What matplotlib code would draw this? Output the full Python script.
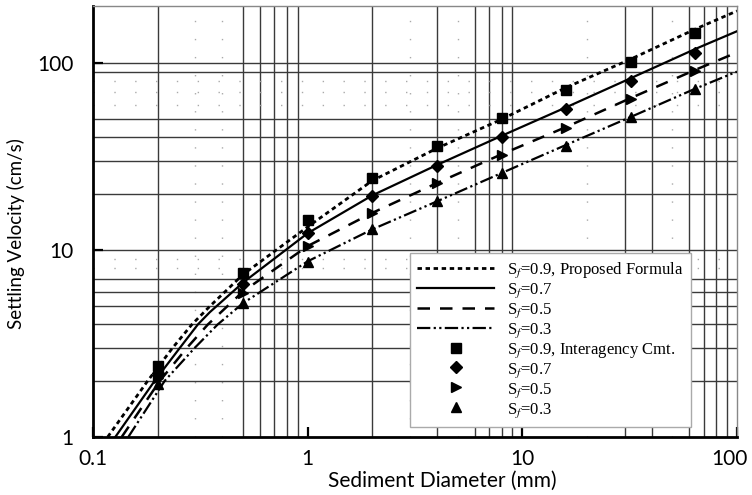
import numpy as np
import matplotlib
matplotlib.use("Agg")
import matplotlib.pyplot as plt
from matplotlib.transforms import ScaledTranslation

plt.rcParams['font.family'] = ['Lato', 'DejaVu Sans']
plt.rcParams['mathtext.fontset'] = 'stix'

# measured settling velocities (Interagency Committee), cm/s
d_meas = [0.2, 0.5, 1, 2, 4, 8, 16, 32, 64]
v_meas_09 = [2.4, 7.5, 14.4, 24.2, 36, 50.8, 71.8, 101, 145]
v_meas_07 = [2.2, 6.6, 12.3, 19.4, 28.1, 40.2, 56.8, 80, 113]
v_meas_05 = [2.06, 5.9, 10.5, 15.7, 22.8, 32.2, 44.9, 64.2, 90.7]
v_meas_03 = [1.91, 5.19, 8.6, 12.9, 18.2, 25.8, 36, 51.5, 72.6]

# proposed formula curves
d_f09 = [0.117, 0.18, 0.235, 0.289, 0.35, 0.5, 1, 2, 4, 8, 16, 32, 64, 100]
v_f09 = [1, 2, 3, 4, 5.0, 7.4, 13.3, 23.5, 35, 50, 74, 105, 152, 190]
d_f07 = [0.127, 0.194, 0.254, 0.308, 0.35, 0.5, 1, 2, 4, 8, 16, 32, 64, 100]
v_f07 = [1, 2, 3, 4, 4.65, 6.7, 12.3, 19.6, 28.5, 40.8, 58, 83, 119, 148]
d_f05 = [0.136, 0.205, 0.274, 0.343, 0.5, 1, 2, 4, 8, 16, 32, 64, 100]
v_f05 = [1, 2, 3, 4, 6.0, 10.5, 15.8, 22.8, 32.5, 45.5, 65, 92, 114]
d_f03 = [0.146, 0.216, 0.298, 0.381, 0.5, 1, 2, 4, 8, 16, 32, 64, 100]
v_f03 = [1, 2, 3, 4, 5.2, 8.7, 12.9, 18.2, 25.8, 36.5, 51.5, 73, 90]

# grid positions
vgrid_solid = [0.2, 0.5, 0.6, 0.7, 0.8, 0.9, 2, 4, 6, 7, 8, 9, 30, 40, 60, 70, 80, 90]
vgrid_dot = [0.3, 0.4, 3, 5, 20, 50]
hgrid_solid = [2, 3, 4, 5, 6, 7, 10, 20, 30, 40, 50, 90, 100]
hgrid_dot = [8, 9, 60, 70, 80]

fig = plt.figure(figsize=(7.52, 4.95), dpi=100)
ax = fig.add_axes([0.1237, 0.1172, 0.8563, 0.8707])
ax.set_xscale('log')
ax.set_yscale('log')
ax.set_xlim(0.1, 100)
ax.set_ylim(1, 202)

for x in vgrid_solid:
    ax.axvline(x, color='#3a3a3a', lw=1.0, zorder=1)
for x in vgrid_dot:
    ax.axvline(x, color='#aaaaaa', lw=1.0, ls=(0, (1, 12)), zorder=1)
for y in hgrid_solid:
    ax.axhline(y, color='#3a3a3a', lw=1.0, zorder=1)
for y in hgrid_dot:
    ax.axhline(y, color='#aaaaaa', lw=1.0, ls=(0, (1, 14)), zorder=1)

lab = r'S$_{f}$'
ax.plot(d_f09, v_f09, color='k', lw=2.0, ls=(0, (1.6, 1.3)),
        label=lab + '=0.9, Proposed Formula', zorder=3)
ax.plot(d_f07, v_f07, color='k', lw=1.6, ls='-', label=lab + '=0.7', zorder=3)
ax.plot(d_f05, v_f05, color='k', lw=1.8, ls=(0, (5, 4)), label=lab + '=0.5', zorder=3)
ax.plot(d_f03, v_f03, color='k', lw=1.6, ls=(0, (6, 1.5, 1, 1.5, 1, 1.5)),
        label=lab + '=0.3', zorder=3)

ax.plot(d_meas, v_meas_09, 's', color='k', ms=7, label=lab + '=0.9, Interagency Cmt.', zorder=4)
ax.plot(d_meas, v_meas_07, 'D', color='k', ms=6, label=lab + '=0.7', zorder=4)
ax.plot(d_meas, v_meas_05, '>', color='k', ms=7, label=lab + '=0.5', zorder=4)
ax.plot(d_meas, v_meas_03, '^', color='k', ms=7, label=lab + '=0.3', zorder=4)

ax.set_xticks([0.1, 1, 10, 100], ['0.1', '1', '10', '100'])
ax.set_yticks([1, 10, 100], ['1', '10', '100'])
ax.minorticks_off()
ax.tick_params(axis='both', direction='in', length=7, width=1.6, labelsize=15, colors='k')
ax.tick_params(axis='x', pad=9)
ax.tick_params(axis='y', pad=14)
# keep the last x label inside the figure
last = ax.get_xticklabels()[-1]
last.set_transform(last.get_transform() + ScaledTranslation(-8 / 100, 0, fig.dpi_scale_trans))

for s in ['left', 'bottom']:
    ax.spines[s].set_linewidth(2.0)
    ax.spines[s].set_color('k')
for s in ['top', 'right']:
    ax.spines[s].set_linewidth(1.0)
    ax.spines[s].set_color('#888888')

ax.set_xlabel('Sediment Diameter (mm)', fontsize=15)
ax.xaxis.set_label_coords(0.543, -0.078)
ax.set_ylabel('Settling Velocity (cm/s)', fontsize=13.5)
ax.yaxis.set_label_coords(-0.106, 0.473)

leg = ax.legend(loc='upper left', bbox_to_anchor=(0.492, 0.427),
                prop={'family': 'Liberation Serif', 'size': 12},
                handlelength=4.6, labelspacing=0.08, handletextpad=0.8,
                borderpad=0.45, borderaxespad=0.0, fancybox=False, framealpha=1.0,
                edgecolor='#aaaaaa')
leg.get_frame().set_linewidth(1.0)
leg.set_zorder(5)

fig.savefig('out.png', dpi=100)
